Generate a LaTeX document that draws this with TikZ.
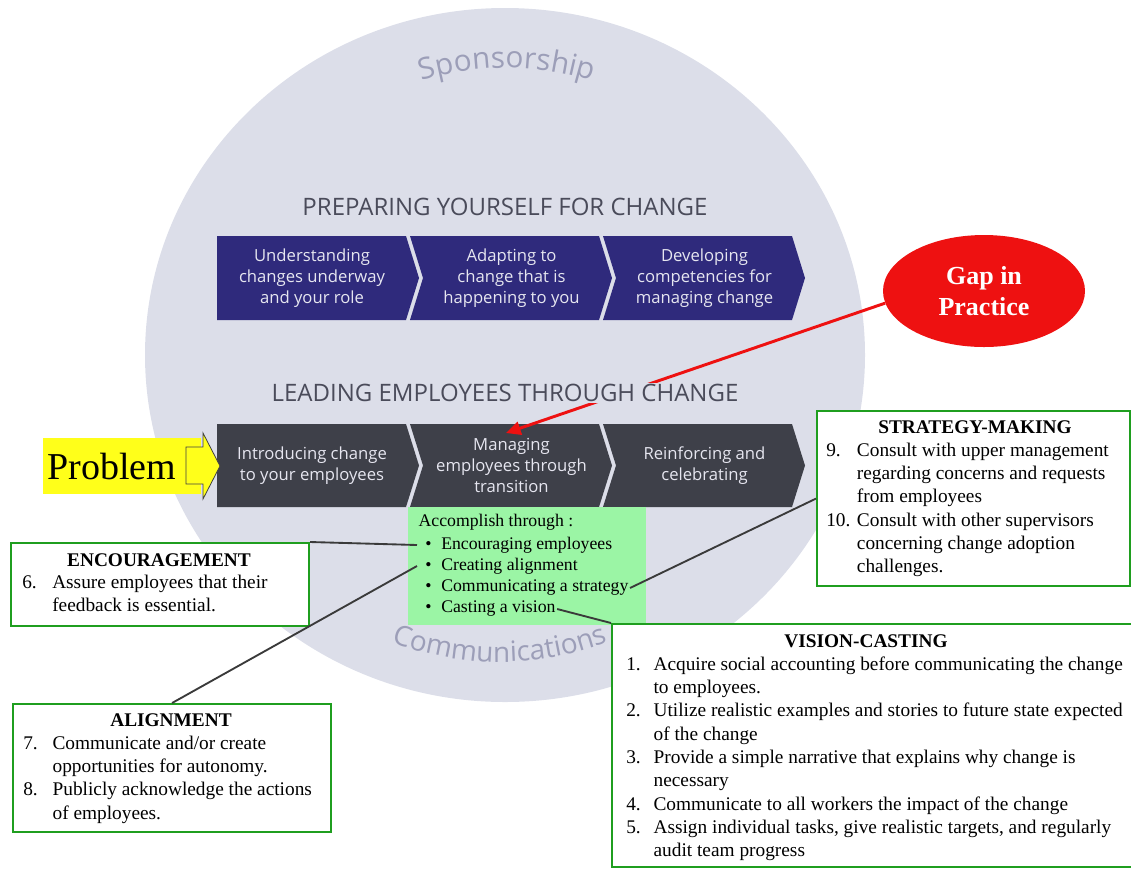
\documentclass[tikz,border=0pt]{standalone}
\usepackage{fontspec}
\setmainfont{Liberation Serif}
\newfontfamily\opensans{Open Sans}
\usetikzlibrary{shapes.geometric,decorations.text,arrows.meta}
\newcommand\bodyfont{\fontsize{14.5}{17.5}\selectfont}
\newcommand\ringfont{\opensans\fontsize{21}{24}\selectfont}
\newcommand\sponsfont{\opensans\fontsize{22.3}{25}\selectfont}

\begin{document}
\begin{tikzpicture}[x=0.75pt,y=-0.75pt,
  gbox/.style={draw=boxgreen,line width=1.6pt,fill=white,inner sep=0,anchor=north west},
  boxtitle/.style={anchor=base,inner sep=0,font=\bodyfont\bfseries},
  boxlist/.style={anchor=base west,inner sep=0,font=\bodyfont},
  chevtxt/.style={text=chevtext,align=center,inner sep=0,font=\opensans\fontsize{12.5}{15.75}\selectfont},
  bigtitle/.style={text=titlegray,inner sep=1pt,font=\opensans\fontsize{18}{20}\selectfont},
  linker/.style={draw=linkgray,line width=1.4pt},
  mintitem/.style={anchor=west,inner sep=1pt,font=\fontsize{13.3}{16}\selectfont}]
\definecolor{ringgray}{HTML}{DCDEE9}
\definecolor{ringtext}{HTML}{9C9EB8}
\definecolor{titlegray}{HTML}{4A4B5A}
\definecolor{prepblue}{HTML}{2F2A7C}
\definecolor{leadgray}{HTML}{3E4049}
\definecolor{chevtext}{HTML}{E6E6F0}
\definecolor{boxgreen}{HTML}{1F9E1F}
\definecolor{mintgreen}{HTML}{9BF5A5}
\definecolor{gapred}{HTML}{EE1111}
\definecolor{probyellow}{HTML}{FFFF1A}
\definecolor{linkgray}{HTML}{3A3A3A}
\useasboundingbox (0,0) rectangle (1131,869);
\clip (0,0) rectangle (1131,869);

% the big ring behind both rows
\node[ellipse,fill=ringgray,minimum width=540pt,minimum height=520.5pt] (ring) at (505,355) {};
\path[decorate,decoration={text along path,text align=center,text color=ringtext,
  text={|\sponsfont|Sponsorship}}] (507,355) ++(250:287) arc[start angle=250,end angle=290,radius=287];
\path[decorate,decoration={text along path,text align=center,text color=ringtext,
  text={|\ringfont|Communications}}] (500,356) ++(115:306) arc[start angle=115,end angle=65,radius=306];

% upper row
\node[bigtitle] (preptitle) at (505,207) {PREPARING YOURSELF FOR CHANGE};
\foreach \lbl/\pos/\nd in {{Understanding\\changes underway\\and your role}/0/0,
  {Adapting to\\change that is\\happening to you}/1/13,
  {Developing\\competencies for\\managing change}/2/13}
{ \fill[prepblue] (217+193*\pos,236) -- ++(189,0) -- ++(13,42) -- ++(-13,42) -- ++(-189,0) -- ++(\nd,-42) -- cycle;
  \node[chevtxt] (prep\pos) at (217+193*\pos+95+\nd/2,278) {\lbl};}

% lower row
\foreach \lbl/\pos/\nd in {{Introducing change\\to your employees}/0/0,
  {Managing\\employees through\\transition}/1/13,
  {Reinforcing and\\celebrating}/2/13}
{ \fill[leadgray] (217+193*\pos,424) -- ++(189,0) -- ++(13,41.5) -- ++(-13,41.5) -- ++(-189,0) -- ++(\nd,-41.5) -- cycle;
  \node[chevtxt] (lead\pos) at (217+193*\pos+95+\nd/2,465.5) {\lbl};}

% problem marker
\node[fill=probyellow,anchor=west,inner xsep=3pt,inner ysep=0,text width=112pt,align=left,
  minimum height=42pt,font=\fontsize{28.5}{30}\selectfont] (problem) at (43,466) {Problem};
\draw[draw=black!75,fill=probyellow,line width=0.6pt] (186,447) -- (203,447) -- (203,433)
  -- (220,466) -- (203,499) -- (203,484) -- (186,484) -- cycle;

% gap in practice
\node[ellipse,fill=gapred,minimum width=151.5pt,minimum height=84pt,text=white,align=center,
  font=\bfseries\fontsize{19.5}{23.5}\selectfont] (gap) at (984,291) {Gap in\\Practice};
\coordinate (gaptip) at (506,433);
\draw[gapred,line width=2.2pt,-{Triangle[length=11pt,width=10pt]}] (gap.187) -- (gaptip);
\node[bigtitle,fill=ringgray] (leadtitle) at (505,393) {LEADING EMPLOYEES THROUGH CHANGE};

% accomplish through
\node[fill=mintgreen,anchor=north west,minimum width=178.5pt,minimum height=88.5pt,inner sep=0] (accomplish) at (408,507) {};
\node[mintitem] (acctitle) at (417,522) {Accomplish through :};
\foreach \itm/\y/\nm in {Encouraging employees/545/encitem, Creating alignment/566/alignitem,
  Communicating a strategy/588/stratitem, Casting a vision/609/visitem}
  \node[mintitem] (\nm) at (417,\y) {\makebox[17pt][l]{\hspace{5pt}\textbullet}\itm};

% green boxes
\node[gbox,minimum width=223.5pt,minimum height=62.25pt] (encbox) at (10,542) {};
\node[boxtitle] (enctitle) at (159,566) {ENCOURAGEMENT};
\node[boxlist] (enclist) at (22,588) {\begin{tabular}[t]{@{}p{22.5pt}@{}l@{}}
6. & Assure employees that their\\
   & feedback is essential.
\end{tabular}};

\node[gbox,minimum width=238.5pt,minimum height=96pt] (alignbox) at (12,703) {};
\node[boxtitle] (aligntitle) at (171,726) {ALIGNMENT};
\node[boxlist] (alignlist) at (23,749) {\begin{tabular}[t]{@{}p{22pt}@{}l@{}}
7. & Communicate and/or create\\
   & opportunities for autonomy.\\
8. & Publicly acknowledge the actions\\
   & of employees.
\end{tabular}};

\node[gbox,minimum width=234.75pt,minimum height=131.25pt] (stratbox) at (816,410) {};
\node[boxtitle] (strattitle) at (975,433) {STRATEGY-MAKING};
\node[boxlist] (stratlist) at (826,456) {\begin{tabular}[t]{@{}p{23pt}@{}l@{}}
9.  & Consult with upper management\\
    & regarding concerns and requests\\
    & from employees\\
10. & Consult with other supervisors\\
    & concerning change adoption\\
    & challenges.
\end{tabular}};

\node[gbox,minimum width=392.25pt,minimum height=182.25pt] (visionbox) at (611,623) {};
\node[boxtitle] (visiontitle) at (866,647) {VISION-CASTING};
\node[boxlist] (visionlist) at (626,670) {\begin{tabular}[t]{@{}p{20.5pt}@{}l@{}}
1. & Acquire social accounting before communicating the change\\
   & to employees.\\
2. & Utilize realistic examples and stories to future state expected\\
   & of the change\\
3. & Provide a simple narrative that explains why change is\\
   & necessary\\
4. & Communicate to all workers the impact of the change\\
5. & Assign individual tasks, give realistic targets, and regularly\\
   & audit team progress
\end{tabular}};

% leader lines
\draw[linker] (encbox.north east) -- (encitem.west);
\draw[linker] (alignbox.north) -- (alignitem.west);
\draw[linker] (stratitem.east) -- (stratbox.west);
\draw[linker] (visitem.east) -- (visionbox.north west);
\end{tikzpicture}
\end{document}
